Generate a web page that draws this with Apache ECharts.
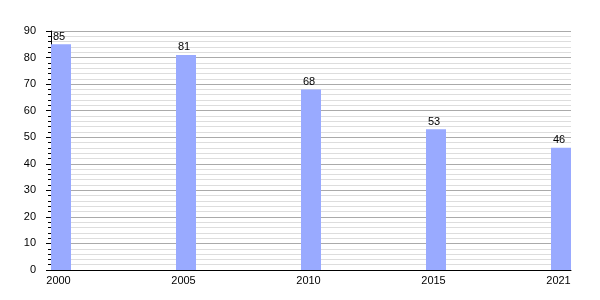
<!DOCTYPE html>
<html><head><meta charset="utf-8">
<script src="https://cdn.jsdelivr.net/npm/echarts@6/dist/echarts.min.js"></script>
<style>html,body{margin:0;padding:0;background:#fff}#c{width:600px;height:300px}</style>
</head><body><div id="c"></div>
<script>
const years = ['2000', '2005', '2010', '2015', '2021'];
const values = [85, 81, 68, 53, 46];
const yTicks = [0, 10, 20, 30, 40, 50, 60, 70, 80, 90];

const chart = echarts.init(document.getElementById('c'), null, {renderer: 'canvas'});
const font = 'Liberation Sans, Arial, sans-serif';
chart.setOption({
  animation: false,
  grid: {left: 51, right: 29, top: 31, bottom: 30, containLabel: false},
  xAxis: {
    type: 'value', min: -0.08, max: 4.08,
    axisLine: {show: true, onZero: false, lineStyle: {color: '#000', width: 1}},
    axisTick: {show: false},
    splitLine: {show: false},
    axisLabel: {
      customValues: [-0.02, 0.98, 1.98, 2.98, 3.98],
      formatter: v => years[Math.round(v)],
      color: '#000', fontSize: 11, fontFamily: font, margin: 5
    }
  },
  yAxis: {
    type: 'value', min: 0, max: 90, interval: 10,
    axisLine: {show: true, onZero: false, lineStyle: {color: '#000', width: 1}},
    axisTick: {show: true, length: 5, lineStyle: {color: '#000'}},
    minorTick: {show: true, splitNumber: 5, length: 3, lineStyle: {color: '#000'}},
    splitLine: {show: true, lineStyle: {color: '#aaaaaa', width: 1}},
    minorSplitLine: {show: true, lineStyle: {color: '#dddddd', width: 1}},
    axisLabel: {color: '#000', fontSize: 11, fontFamily: font, margin: 15,
      formatter: v => yTicks.includes(v) ? String(v) : ''}
  },
  series: [{
    type: 'bar',
    data: values.map((v, i) => [i, v]),
    barWidth: 20,
    itemStyle: {color: '#99aaff'},
    label: {show: true, position: 'top', distance: 2, offset: [-2, 0], color: '#000', fontSize: 11, fontFamily: font}
  }]
});
</script></body></html>
